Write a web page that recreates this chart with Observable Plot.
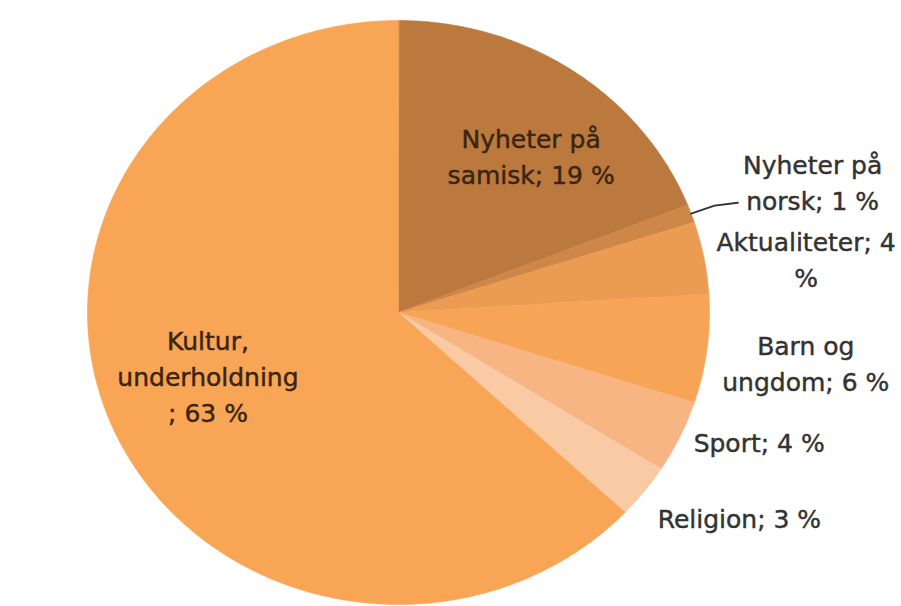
<!DOCTYPE html>
<html><head><meta charset="utf-8">
<script src="https://cdn.jsdelivr.net/npm/d3@7"></script>
<script src="https://cdn.jsdelivr.net/npm/@observablehq/plot@0.6"></script>
<style>html,body{margin:0;padding:0;background:#fff}</style>
</head><body><div id="chart"></div>
<script>
// ---- data ----
const categories = ["Nyheter på samisk", "Nyheter på norsk", "Aktualiteter", "Barn og ungdom", "Sport", "Religion", "Kultur, underholdning"];
const shares = [19, 1, 4, 6, 4, 3, 63];
const labelTexts = ["Nyheter på\nsamisk; 19 %", "Nyheter på\nnorsk; 1 %", "Aktualiteter; 4\n%", "Barn og\nungdom; 6 %", "Sport; 4 %", "Religion; 3 %", "Kultur,\nunderholdning\n; 63 %"];

// ---- style / layout ----
const sliceColors = ["#BC793E", "#CD8748", "#EC9C52", "#F8A456", "#F8B584", "#FACAA5", "#F9A556"];
const labelLayout = [
  {radius: 0.65, dx: 19, dy: -1, color: "#3a2412"},
  {radius: 1.2, dx: 63, dy: -13, color: "#333333", leader: true},
  {radius: 1.2, dx: 41, dy: 11, color: "#333333"},
  {radius: 1.2, dx: 37, dy: 5, color: "#333333"},
  {radius: 1.2, dx: 23, dy: -21, color: "#333333"},
  {radius: 1.2, dx: 46, dy: -11, color: "#333333"},
  {radius: 0.65, dx: -5, dy: -13, color: "#3a2412"}
];

const total = d3.sum(shares);
const ang = v => 2 * Math.PI * v / total;
const pt = (a, f) => ({x: f * Math.sin(a), y: f * Math.cos(a)});

// slice polygons
const slicePts = [];
let cum = 0;
const mids = [];
categories.forEach((c, i) => {
  const a0 = ang(cum), a1 = ang(cum + shares[i]);
  mids.push((a0 + a1) / 2);
  slicePts.push({cat: c, ...pt(0, 0)});
  const n = Math.max(2, Math.ceil((a1 - a0) / (Math.PI / 360)));
  for (let k = 0; k <= n; k++) slicePts.push({cat: c, ...pt(a0 + (a1 - a0) * k / n, 1)});
  cum += shares[i];
});

// leader line for the small slice
const leaderPts = [];
labelLayout.forEach((L, i) => {
  if (!L.leader) return;
  const p0 = pt(mids[i], 1.0), p1 = pt(mids[i], 1.08);
  leaderPts.push(p0, p1, {x: p1.x + 0.075, y: p1.y + 0.01});
});

const textMarks = categories.map((c, i) => {
  const L = labelLayout[i];
  const p = pt(mids[i], L.radius);
  return Plot.text([{...p, t: labelTexts[i]}], {
    x: "x", y: "y", text: "t", dx: L.dx, dy: L.dy,
    fill: L.color, stroke: L.color, strokeWidth: 0.45,
    fontSize: 25, fontFamily: "DejaVu Sans",
    lineHeight: 1.44, textAnchor: "middle", lineAnchor: "middle"
  });
});

const chart = Plot.plot({
  width: 901, height: 606,
  marginLeft: 87, marginRight: 192, marginTop: 20, marginBottom: 2,
  x: {domain: [-1, 1], axis: null},
  y: {domain: [-1, 1], axis: null},
  color: {domain: categories, range: sliceColors},
  style: {background: "#fff"},
  marks: [
    Plot.line(slicePts, {x: "x", y: "y", z: "cat", fill: "cat", stroke: "cat", strokeWidth: 0.6, curve: "linear-closed"}),
    Plot.line(leaderPts, {x: "x", y: "y", stroke: "#333", strokeWidth: 1.8}),
    ...textMarks
  ]
});
document.getElementById("chart").appendChild(chart);
</script>
</body></html>
